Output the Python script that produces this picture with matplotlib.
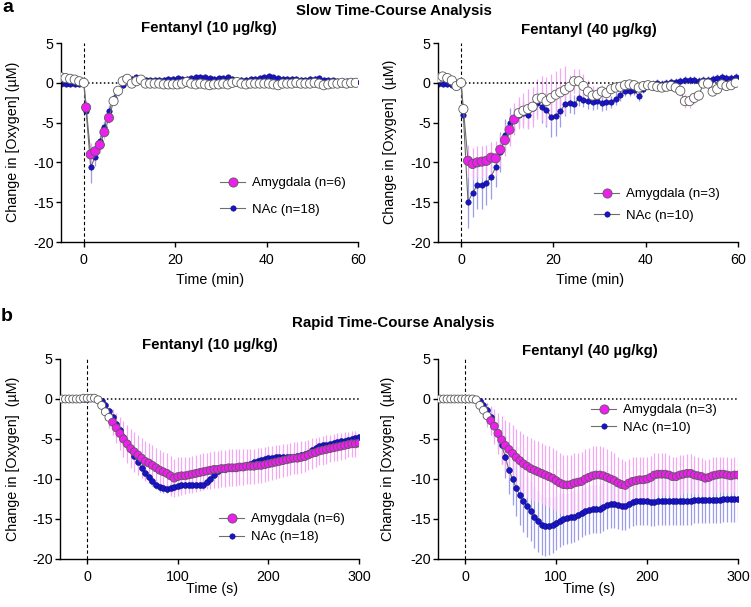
import matplotlib
matplotlib.use("Agg")
import matplotlib.pyplot as plt
from matplotlib.lines import Line2D
import numpy as np

plt.rcParams['font.family'] = ['Liberation Sans', 'DejaVu Sans']

# ---------------- DATA ----------------
# Slow time-course: 1-min bins (baseline then post-injection bins)
time_slow = [-5, -4, -3, -2, -1, 0] + [m + 0.5 for m in range(60)]

amy10_slow = [0.7, 0.6, 0.5, 0.4, 0.2, 0.0,
              -3.1, -9.0, -8.6, -7.8, -6.2, -4.4, -2.3, -1.0, 0.2, 0.5,
              -0.1, 0.2, 0.4, -0.1, -0.1, -0.1, -0.1, -0.2, -0.2, -0.2,
              -0.2, -0.1, 0.1, -0.1, -0.2, -0.1, -0.2, -0.3, -0.2, -0.2,
              -0.1, -0.2, 0.0, 0.1, -0.1, -0.2, -0.1, -0.1, -0.1, -0.1,
              -0.1, -0.2, -0.3, -0.1, -0.1, -0.1, 0.0, -0.1, -0.1, -0.1,
              0.0, -0.1, -0.3, -0.2, -0.1, -0.1, 0.0, -0.1, 0.0, 0.0]
amy10_slow_err = [0.3, 0.3, 0.3, 0.3, 0.3, 0.0,
                  1.0, 1.5, 1.2, 1.0, 0.8, 0.6, 0.5, 0.6, 0.8, 0.5,
                  0.4, 0.3, 0.3, 0.3, 0.3, 0.3, 0.3, 0.3, 0.3, 0.3,
                  0.3, 0.3, 0.3, 0.3, 0.3, 0.3, 0.3, 0.4, 0.3, 0.3,
                  0.3, 0.3, 0.3, 0.3, 0.3, 0.3, 0.3, 0.3, 0.3, 0.3,
                  0.3, 0.3, 0.4, 0.3, 0.3, 0.3, 0.3, 0.3, 0.3, 0.3,
                  0.3, 0.3, 0.4, 0.3, 0.3, 0.3, 0.3, 0.3, 0.3, 0.3]
nac10_slow = [-0.1, -0.1, -0.1, -0.2, -0.1, 0.0,
              -3.5, -10.6, -9.3, -7.3, -5.6, -3.6, -1.9, -1.1, -0.3, 0.2,
              0.5, 0.7, 0.5, 0.4, 0.3, 0.3, 0.4, 0.4, 0.5, 0.5,
              0.6, 0.5, 0.5, 0.6, 0.7, 0.7, 0.7, 0.6, 0.5, 0.6,
              0.6, 0.7, 0.5, 0.4, 0.4, 0.4, 0.5, 0.5, 0.6, 0.7,
              0.8, 0.7, 0.6, 0.5, 0.5, 0.5, 0.5, 0.4, 0.4, 0.5,
              0.5, 0.6, 0.4, 0.3, 0.3, 0.2, 0.2, 0.2, 0.2, 0.1]
nac10_slow_err = [0.2, 0.2, 0.2, 0.2, 0.2, 0.0,
                  1.0, 2.0, 1.2, 0.8, 0.8, 0.8, 0.6, 0.5, 0.4, 0.4,
                  0.3, 0.3, 0.3, 0.3, 0.3, 0.3, 0.3, 0.3, 0.3, 0.3,
                  0.3, 0.3, 0.3, 0.3, 0.3, 0.3, 0.3, 0.3, 0.3, 0.3,
                  0.3, 0.3, 0.3, 0.3, 0.3, 0.3, 0.3, 0.3, 0.3, 0.3,
                  0.3, 0.3, 0.3, 0.3, 0.3, 0.3, 0.3, 0.3, 0.3, 0.3,
                  0.3, 0.3, 0.3, 0.3, 0.3, 0.3, 0.3, 0.3, 0.3, 0.3]

amy40_slow = [0.6, 0.8, 0.6, 0.3, -0.4, 0.0,
              -3.3, -9.8, -10.2, -10.0, -9.9, -9.8, -9.4, -9.5, -8.4, -7.2,
              -5.9, -4.6, -3.8, -3.5, -3.3, -3.0, -2.0, -1.9, -2.3, -1.9,
              -1.5, -1.2, -0.9, -0.5, 0.2, 0.2, -0.4, -1.1, -1.6, -1.5,
              -1.1, -1.3, -0.8, -0.6, -0.5, -0.3, -0.2, -0.3, -0.6, -0.4,
              -0.3, -0.4, -0.5, -0.6, -0.5, -0.4, -0.6, -1.0, -2.3, -2.3,
              -1.9, -1.6, -0.1, -0.1, -1.1, -0.8, -0.2, -0.4, -0.3, 0.0]
amy40_slow_err = [0.3, 0.3, 0.3, 0.3, 0.3, 0.0,
                  0.6, 2.0, 2.0, 2.0, 2.0, 2.0, 2.0, 2.2, 2.0, 2.0,
                  2.0, 2.0, 2.0, 2.2, 2.5, 2.5, 2.5, 2.8, 3.0, 3.0,
                  3.0, 3.0, 3.0, 1.5, 1.5, 1.5, 1.5, 1.5, 1.2, 1.0,
                  0.8, 0.6, 0.5, 0.5, 0.5, 0.5, 0.5, 0.5, 0.5, 0.4,
                  0.4, 0.4, 0.4, 0.4, 0.4, 0.4, 0.5, 0.6, 0.9, 0.9,
                  0.8, 0.6, 0.4, 0.4, 0.5, 0.5, 0.4, 0.4, 0.4, 0.3]
nac40_slow = [-0.1, -0.1, -0.2, -0.3, -0.1, 0.0,
              -4.1, -15.0, -13.8, -12.9, -12.8, -12.6, -11.8, -10.6, -8.7, -6.6,
              -5.0, -4.6, -4.0, -3.8, -4.0, -3.2, -2.5, -3.0, -3.4, -4.3,
              -4.2, -3.6, -2.7, -2.6, -2.7, -1.9, -2.1, -2.3, -2.4, -2.3,
              -2.6, -2.4, -2.4, -2.0, -1.5, -1.0, -1.0, -0.9, -1.7, -0.8,
              -0.3, -0.1, 0.0, -0.1, 0.0, 0.1, 0.1, 0.2, 0.3, 0.3,
              0.3, 0.2, 0.3, 0.4, 0.5, 0.6, 0.7, 0.6, 0.6, 0.7]
nac40_slow_err = [0.3, 0.3, 0.3, 0.3, 0.3, 0.0,
                  0.8, 3.2, 3.0, 3.0, 3.0, 2.8, 2.8, 2.5, 2.5, 2.0,
                  1.8, 1.5, 1.5, 1.5, 1.5, 1.5, 1.5, 2.0, 2.2, 2.5,
                  2.5, 2.0, 1.5, 1.2, 1.2, 1.0, 1.0, 1.0, 1.0, 1.0,
                  1.0, 1.0, 0.8, 0.8, 0.8, 0.6, 0.6, 0.6, 0.6, 0.5,
                  0.5, 0.5, 0.5, 0.5, 0.5, 0.5, 0.5, 0.5, 0.5, 0.5,
                  0.5, 0.5, 0.5, 0.5, 0.5, 0.5, 0.5, 0.5, 0.5, 0.5]

# Rapid time-course: 4-s bins
time_rapid = list(range(-28, 301, 4))

amy10_rapid = [0.0, 0.0, 0.0, 0.0, 0.0, 0.0, 0.1, 0.1,
               0.1, 0.1, -0.1, -0.8, -1.6, -2.3, -2.9, -3.6, -4.3, -5.0,
               -5.6, -6.2, -6.6, -7.0, -7.4, -7.8, -8.0, -8.3, -8.6, -8.9,
               -9.1, -9.3, -9.6, -9.9, -9.7, -9.6, -9.6, -9.5, -9.4, -9.3,
               -9.2, -9.1, -9.0, -8.9, -8.8, -8.8, -8.7, -8.7, -8.6, -8.6,
               -8.6, -8.5, -8.5, -8.4, -8.4, -8.4, -8.3, -8.3, -8.2, -8.1,
               -8.0, -7.9, -7.8, -7.7, -7.6, -7.5, -7.4, -7.4, -7.3, -7.2,
               -7.0, -6.8, -6.7, -6.5, -6.4, -6.3, -6.2, -6.1, -6.0, -5.9,
               -5.8, -5.7, -5.6, -5.6, -5.5]
amy10_rapid_err = [0.2, 0.2, 0.2, 0.2, 0.2, 0.2, 0.2, 0.2,
                   0.3, 0.3, 0.4, 0.8, 1.0, 1.3, 1.6, 1.9, 2.1, 2.3,
                   2.4, 2.4, 2.5, 2.5, 2.5, 2.5, 2.5, 2.5, 2.5, 2.5,
                   2.5, 2.5, 2.5, 2.4, 2.4, 2.4, 2.3, 2.3, 2.3, 2.3,
                   2.3, 2.3, 2.3, 2.3, 2.3, 2.3, 2.3, 2.3, 2.3, 2.3,
                   2.3, 2.3, 2.2, 2.2, 2.2, 2.2, 2.2, 2.2, 2.2, 2.2,
                   2.1, 2.1, 2.1, 2.1, 2.0, 2.0, 2.0, 2.0, 2.0, 1.9,
                   1.9, 1.9, 1.8, 1.8, 1.8, 1.8, 1.7, 1.7, 1.7, 1.7,
                   1.7, 1.6, 1.6, 1.6, 1.6]
nac10_rapid = [0.0, 0.0, 0.0, 0.0, 0.0, 0.0, 0.0, 0.0,
               0.1, 0.1, 0.0, -0.2, -0.8, -1.5, -2.3, -3.1, -3.9, -4.7,
               -5.5, -6.4, -7.1, -7.9, -8.6, -9.2, -9.8, -10.3, -10.7, -11.0,
               -11.1, -11.2, -11.1, -11.0, -10.9, -10.8, -10.7, -10.7, -10.7, -10.7,
               -10.8, -10.7, -10.4, -10.0, -9.5, -9.0, -8.8, -8.7, -8.6, -8.6,
               -8.6, -8.5, -8.4, -8.3, -8.1, -7.9, -7.7, -7.6, -7.5, -7.4,
               -7.4, -7.3, -7.3, -7.2, -7.2, -7.2, -7.2, -7.1, -7.0, -6.9,
               -6.7, -6.4, -6.1, -5.9, -5.8, -5.7, -5.6, -5.5, -5.4, -5.3,
               -5.2, -5.1, -5.0, -4.9, -4.8]
nac10_rapid_err = [0.1, 0.1, 0.1, 0.1, 0.1, 0.1, 0.1, 0.1,
                   0.1, 0.1, 0.1, 0.2, 0.3, 0.3, 0.4, 0.4, 0.5, 0.5,
                   0.5, 0.6, 0.6, 0.6, 0.6, 0.6, 0.6, 0.6, 0.6, 0.6,
                   0.6, 0.6, 0.6, 0.6, 0.6, 0.6, 0.6, 0.6, 0.6, 0.6,
                   0.6, 0.6, 0.6, 0.6, 0.6, 0.6, 0.6, 0.6, 0.6, 0.6,
                   0.6, 0.6, 0.6, 0.6, 0.6, 0.6, 0.6, 0.6, 0.6, 0.6,
                   0.6, 0.6, 0.6, 0.6, 0.6, 0.6, 0.6, 0.6, 0.6, 0.6,
                   0.6, 0.6, 0.6, 0.6, 0.6, 0.6, 0.6, 0.6, 0.6, 0.6,
                   0.6, 0.6, 0.6, 0.6, 0.6]

amy40_rapid = [0.0, 0.0, 0.0, 0.0, 0.0, 0.0, 0.0, 0.0,
               0.0, 0.0, -0.1, -0.8, -1.4, -2.1, -2.7, -3.4, -4.3, -5.1,
               -5.8, -6.3, -6.8, -7.3, -7.7, -8.1, -8.4, -8.7, -8.9, -9.1,
               -9.3, -9.5, -9.7, -9.9, -10.2, -10.5, -10.7, -10.75, -10.7, -10.5,
               -10.4, -10.3, -10.0, -9.8, -9.6, -9.5, -9.5, -9.6, -9.8, -10.0,
               -10.2, -10.5, -10.7, -10.8, -10.5, -10.3, -10.2, -10.1, -10.1, -10.0,
               -9.8, -9.5, -9.4, -9.4, -9.4, -9.5, -9.7, -9.7, -9.5, -9.4,
               -9.3, -9.3, -9.5, -9.6, -9.7, -9.9, -9.8, -9.6, -9.5, -9.4,
               -9.4, -9.5, -9.6, -9.5, -9.5]
amy40_rapid_err = [0.2, 0.2, 0.2, 0.2, 0.2, 0.2, 0.2, 0.2,
                   0.2, 0.2, 0.3, 0.6, 1.0, 1.4, 1.8, 2.2, 2.6, 3.0,
                   3.2, 3.4, 3.5, 3.6, 3.7, 3.7, 3.8, 3.8, 3.8, 3.8,
                   3.8, 3.8, 3.8, 3.8, 3.8, 3.8, 3.7, 3.7, 3.7, 3.7,
                   3.7, 3.7, 3.7, 3.7, 3.7, 3.6, 3.6, 3.6, 3.5, 3.5,
                   3.4, 3.3, 3.2, 3.1, 3.0, 3.0, 2.9, 2.9, 2.8, 2.8,
                   2.7, 2.7, 2.6, 2.6, 2.6, 2.5, 2.5, 2.5, 2.5, 2.4,
                   2.4, 2.4, 2.4, 2.3, 2.3, 2.3, 2.3, 2.3, 2.2, 2.2,
                   2.2, 2.2, 2.2, 2.2, 2.2]
nac40_rapid = [0.0, 0.0, 0.0, 0.0, 0.0, 0.0, 0.0, 0.0,
               0.0, 0.0, 0.0, -0.3, -0.7, -1.4, -2.3, -3.3, -4.4, -5.8,
               -7.2, -8.9, -10.0, -11.1, -12.0, -12.8, -13.4, -14.0, -14.8, -15.3,
               -15.75, -15.9, -15.9, -15.7, -15.5, -15.2, -15.0, -14.9, -14.8, -14.7,
               -14.5, -14.2, -14.0, -13.9, -13.8, -13.8, -13.7, -13.5, -13.2, -13.1,
               -13.1, -13.2, -13.4, -13.4, -13.1, -12.9, -12.8, -12.8, -12.8, -12.8,
               -12.9, -12.9, -12.8, -12.8, -12.8, -12.8, -12.8, -12.8, -12.7, -12.7,
               -12.7, -12.7, -12.6, -12.6, -12.6, -12.6, -12.6, -12.6, -12.6, -12.6,
               -12.5, -12.5, -12.5, -12.5, -12.5]
nac40_rapid_err = [0.2, 0.2, 0.2, 0.2, 0.2, 0.2, 0.2, 0.2,
                   0.2, 0.2, 0.2, 0.4, 0.6, 0.9, 1.2, 1.5, 1.9, 2.3,
                   2.7, 3.0, 3.3, 3.5, 3.7, 3.8, 3.8, 3.8, 3.8, 3.8,
                   3.8, 3.7, 3.6, 3.5, 3.4, 3.3, 3.3, 3.2, 3.2, 3.2,
                   3.1, 3.1, 3.0, 3.0, 3.0, 3.0, 3.0, 3.0, 3.0, 3.0,
                   3.0, 3.0, 3.0, 3.0, 3.0, 3.0, 3.0, 3.0, 3.0, 3.0,
                   3.0, 3.0, 3.0, 3.0, 3.0, 3.0, 3.0, 3.0, 3.0, 3.0,
                   3.0, 3.0, 2.9, 2.9, 2.9, 2.9, 2.9, 2.9, 2.9, 2.9,
                   2.9, 2.9, 2.9, 2.9, 2.9]

# periods where amygdala change was significant (filled symbols)
amy10_slow_sig = (0.5, 5.5)
amy40_slow_sig = (1.5, 11.5)
amy10_rapid_sig = (28, 300)
amy40_rapid_sig = (28, 300)

legend_labels = {
    'tl': ['Amygdala (n=6)', 'NAc (n=18)'],
    'tr': ['Amygdala (n=3)', 'NAc (n=10)'],
    'bl': ['Amygdala (n=6)', 'NAc (n=18)'],
    'br': ['Amygdala (n=3)', 'NAc (n=10)'],
}

# ---------------- STYLE ----------------
W, H = 751, 607
MAG = '#EE1EEE'
BLU = '#1A14C8'
MAG_ERR = '#F3A8F3'
BLU_ERR = '#9C9CEA'
LINE = '#6E6E6E'
AMY_EDGE = '#5A5A5A'
NAC_EDGE = '#0A0A70'


def fx(px):
    return px / W


def fy(py):
    return 1 - py / H


fig = plt.figure(figsize=(W / 100, H / 100), dpi=100)


def make_ax(left, top, right, bottom):
    return fig.add_axes([fx(left), fy(bottom), (right - left) / W, (bottom - top) / H])


def panel(ax, t, amy, amy_e, amy_sig, nac, nac_e, xlim, xticks, ms_amy, ms_nac):
    t = np.asarray(t, float)
    amy = np.asarray(amy, float)
    nac = np.asarray(nac, float)
    amy_e = np.asarray(amy_e, float)
    nac_e = np.asarray(nac_e, float)
    ax.vlines(t, nac - nac_e, nac + nac_e, color=BLU_ERR, lw=0.9, zorder=1)
    ax.vlines(t, amy - amy_e, amy + amy_e, color=MAG_ERR, lw=0.9, zorder=1.5)
    ax.plot([0, xlim[1]], [0, 0], color='black', lw=1.1, ls=(0, (1, 1.6)), zorder=1.8)
    ax.plot([0, 0], [-20, 5], color='black', lw=0.8, ls=(0, (3, 2.2)), zorder=1.8)
    ax.plot(t, nac, color=LINE, lw=0.8, zorder=2)
    ax.scatter(t, nac, s=ms_nac ** 2, facecolor=BLU, edgecolor=NAC_EDGE, lw=0.4, zorder=2.5)
    sig = (t >= amy_sig[0]) & (t <= amy_sig[1])
    fc = [MAG if s else 'white' for s in sig]
    ax.plot(t, amy, color=LINE, lw=0.8, zorder=3)
    ax.scatter(t, amy, s=ms_amy ** 2, facecolor=fc, edgecolor=AMY_EDGE, lw=0.6, zorder=3.5)
    ax.set_xlim(*xlim)
    ax.set_ylim(-20, 5)
    ax.set_xticks(xticks)
    ax.set_yticks([5, 0, -5, -10, -15, -20])
    ax.set_yticklabels(['5', '0', '-5', '-10', '-15', '-20'])
    for s in ['top', 'right']:
        ax.spines[s].set_visible(False)
    for s in ['left', 'bottom']:
        ax.spines[s].set_linewidth(1.0)
    ax.tick_params(axis='both', labelsize=10.3, length=3.5, width=1.0)
    ax.tick_params(axis='y', pad=1.8)
    ax.tick_params(axis='x', pad=4.2)


def legend(ax, labels, x, y, spacing, ms_amy, ms_nac):
    h1 = Line2D([0], [0], color=LINE, lw=0.8, marker='o', markersize=ms_amy,
                markerfacecolor=MAG, markeredgecolor=AMY_EDGE, markeredgewidth=0.6)
    h2 = Line2D([0], [0], color=LINE, lw=0.8, marker='o', markersize=ms_nac,
                markerfacecolor=BLU, markeredgecolor=NAC_EDGE, markeredgewidth=0.4)
    ax.legend([h1, h2], labels, loc='upper left', bbox_to_anchor=(fx(x), fy(y)),
              bbox_transform=fig.transFigure, frameon=False, fontsize=9.5,
              handlelength=1.9, handletextpad=0.55, labelspacing=spacing,
              borderpad=0, borderaxespad=0)


ax_tl = make_ax(61, 43, 358, 242)
ax_tr = make_ax(438, 43, 738, 242)
ax_bl = make_ax(60, 359, 359, 559)
ax_br = make_ax(438, 359, 738, 559)

panel(ax_tl, time_slow, amy10_slow, amy10_slow_err, amy10_slow_sig,
      nac10_slow, nac10_slow_err, (-5, 60), [0, 20, 40, 60], 6.6, 3.9)
panel(ax_tr, time_slow, amy40_slow, amy40_slow_err, amy40_slow_sig,
      nac40_slow, nac40_slow_err, (-5, 60), [0, 20, 40, 60], 6.6, 3.9)
panel(ax_bl, time_rapid, amy10_rapid, amy10_rapid_err, amy10_rapid_sig,
      nac10_rapid, nac10_rapid_err, (-30, 300), [0, 100, 200, 300], 5.7, 4.2)
panel(ax_br, time_rapid, amy40_rapid, amy40_rapid_err, amy40_rapid_sig,
      nac40_rapid, nac40_rapid_err, (-30, 300), [0, 100, 200, 300], 5.7, 4.2)

legend(ax_tl, legend_labels['tl'], 220, 177, 1.08, 6.6, 3.9)
legend(ax_tr, legend_labels['tr'], 594, 188, 0.7, 6.6, 3.9)
legend(ax_bl, legend_labels['bl'], 219, 513, 0.45, 6.6, 3.9)
legend(ax_br, legend_labels['br'], 591, 404, 0.42, 6.6, 3.9)

bold = dict(fontweight='bold', ha='center', va='center')
fig.text(fx(8), fy(8), 'a', fontsize=14, **bold)
fig.text(fx(394), fy(11), 'Slow Time-Course Analysis', fontsize=10.8, **bold)
fig.text(fx(209), fy(28), 'Fentanyl (10 µg/kg)', fontsize=10.8, **bold)
fig.text(fx(589), fy(30), 'Fentanyl (40 µg/kg)', fontsize=10.8, **bold)
fig.text(fx(7), fy(317), 'b', fontsize=14, **bold)
fig.text(fx(393), fy(323), 'Rapid Time-Course Analysis', fontsize=10.8, **bold)
fig.text(fx(210), fy(345), 'Fentanyl (10 µg/kg)', fontsize=10.8, **bold)
fig.text(fx(590), fy(351), 'Fentanyl (40 µg/kg)', fontsize=10.8, **bold)

lab = dict(fontsize=10.3, ha='center', va='center')
fig.text(fx(13), fy(142), 'Change in [Oxygen] (µM)', rotation=90, **lab)
fig.text(fx(390), fy(142), 'Change in [Oxygen]  (µM)', rotation=90, **lab)
fig.text(fx(13), fy(459), 'Change in [Oxygen]  (µM)', rotation=90, **lab)
fig.text(fx(388), fy(459), 'Change in [Oxygen]  (µM)', rotation=90, **lab)
fig.text(fx(210), fy(280), 'Time (min)', **lab)
fig.text(fx(590), fy(280), 'Time (min)', **lab)
fig.text(fx(212), fy(589), 'Time (s)', **lab)
fig.text(fx(589), fy(589), 'Time (s)', **lab)

fig.savefig('out.png', dpi=100)
